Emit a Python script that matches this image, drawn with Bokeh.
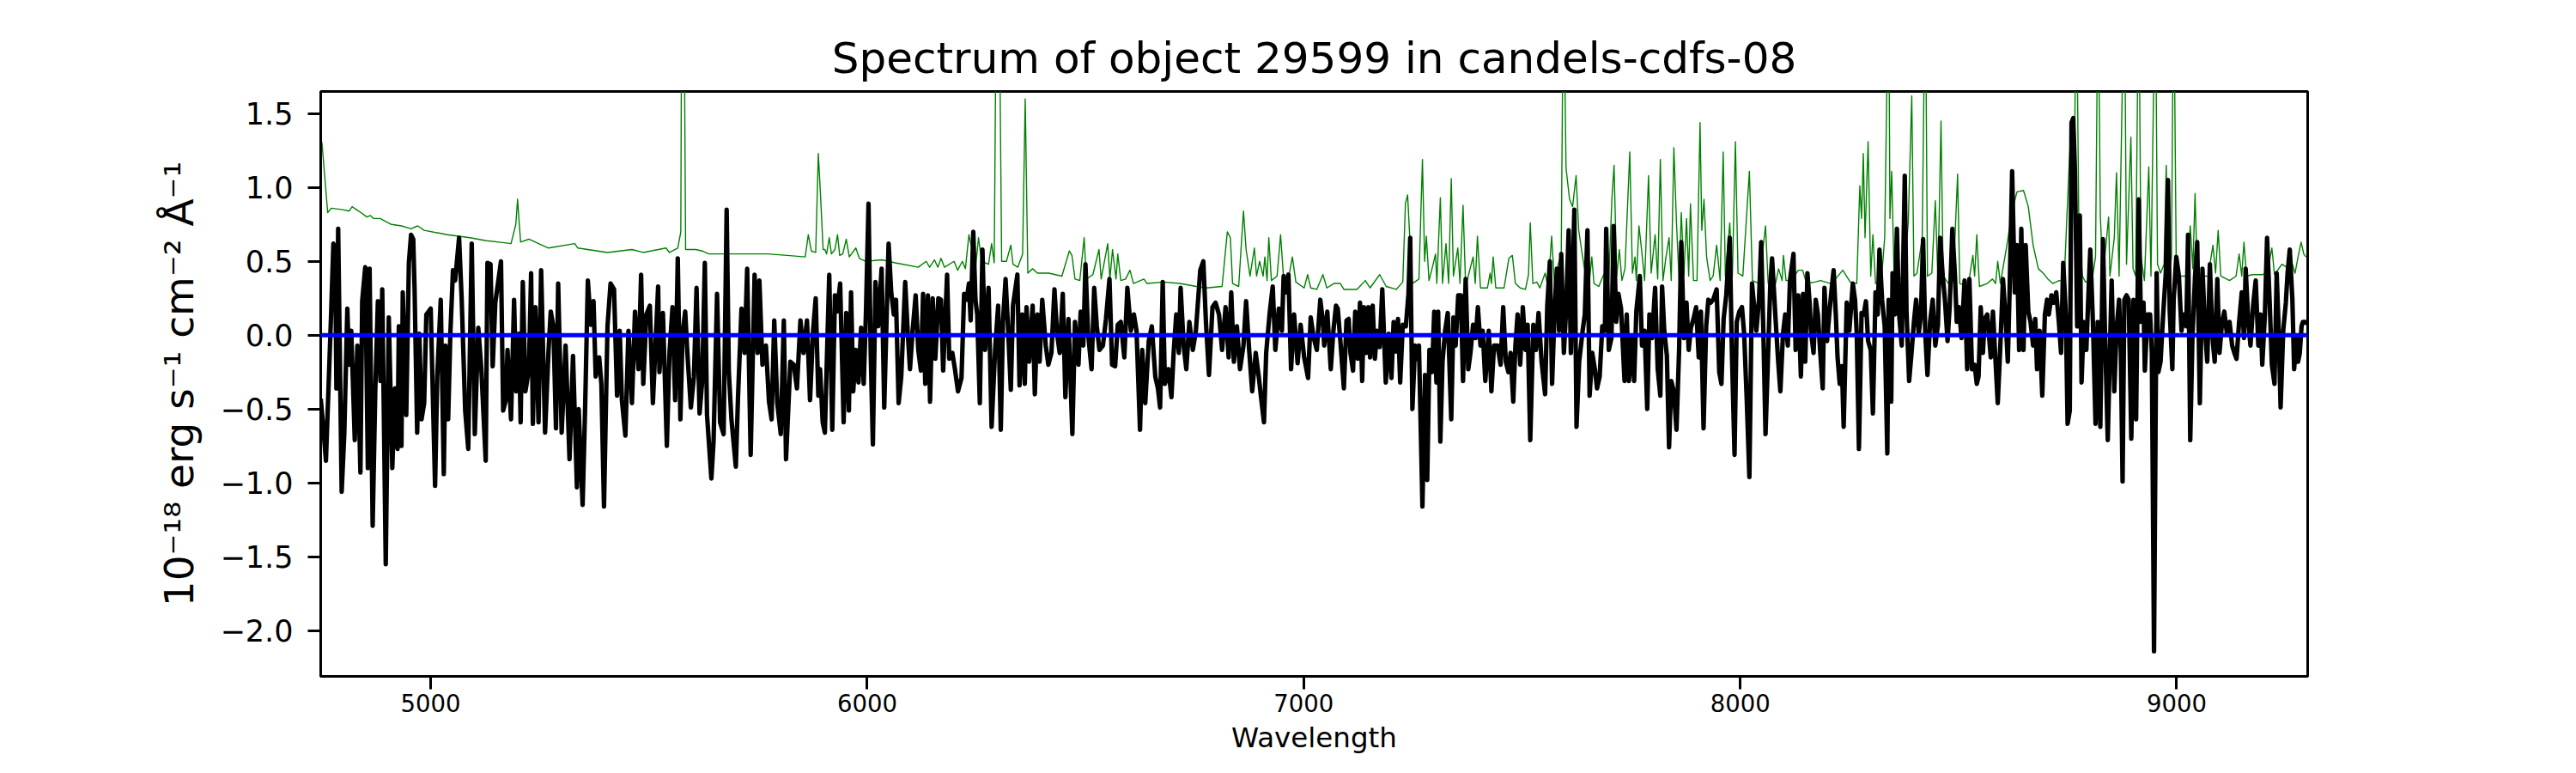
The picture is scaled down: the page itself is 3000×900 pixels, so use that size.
from bokeh.plotting import figure
from bokeh.models import Range1d, FixedTicker, Span, CustomJSTickFormatter
from bokeh.embed import file_html
from bokeh.resources import INLINE

# ---- data ----
# flux (black), pairs of (wavelength [A], flux [1e-18 erg/s/cm2/A])
flux_seg1 = [
    (4748, -0.43), (4753, -0.59), (4760, -0.85), (4772, 0.16), (4777, 0.62), (4781, 0.58), (4784, -0.36),
    (4788, 0.72), (4796, -1.06), (4802, -0.67), (4809, 0.18), (4813, -0.20), (4818, 0.03), (4826, -0.71),
    (4832, -0.07), (4839, -0.93), (4843, 0.23), (4850, 0.46), (4856, -0.90), (4860, 0.45), (4867, -1.29),
    (4873, -0.38), (4879, 0.23), (4885, -0.31), (4889, 0.31), (4897, -1.55), (4904, 0.12), (4912, -0.90),
    (4918, -0.36), (4924, -0.77), (4927, 0.06), (4933, -0.75), (4936, 0.29), (4944, -0.54), (4950, 0.49),
    (4955, 0.68), (4960, 0.65), (4963, 0.32), (4969, -0.66), (4974, 0.01), (4979, -0.57), (4985, -0.46),
    (4990, 0.14), (5000, 0.18), (5010, -1.02), (5015, -0.28), (5023, 0.24), (5030, -0.94), (5034, -0.07),
    (5040, -0.57), (5045, 0.01), (5051, 0.44), (5056, 0.37), (5065, 0.66), (5071, 0.24), (5079, -0.51),
    (5086, -0.77), (5094, 0.62), (5101, -0.67), (5109, 0.05), (5116, -0.23), (5126, -0.85), (5130, 0.49),
    (5137, 0.48), (5142, -0.21), (5148, 0.22), (5154, 0.35), (5161, 0.50), (5166, -0.51), (5172, -0.44),
    (5176, -0.10), (5184, -0.57), (5191, 0.24), (5196, -0.38), (5202, 0.01), (5206, -0.59), (5211, 0.36),
    (5217, -0.38), (5225, -0.23), (5230, 0.42), (5234, -0.60), (5240, 0.19), (5247, -0.59), (5253, 0.44),
    (5262, -0.66), (5270, -0.10), (5275, 0.16), (5281, 0.06), (5287, -0.63), (5292, 0.35), (5300, -0.66),
    (5309, -0.07), (5318, -0.84), (5326, -0.14), (5335, -1.03), (5339, -0.50), (5348, -1.15), (5354, -0.46),
    (5360, 0.37), (5367, 0.07), (5373, 0.23), (5378, -0.28), (5386, -0.15), (5391, -0.33), (5397, -1.16),
    (5405, 0.06), (5412, 0.35), (5420, 0.31), (5427, -0.41), (5433, 0.03), (5438, -0.44), (5446, -0.68),
    (5453, 0.03), (5461, -0.46), (5468, 0.16), (5476, -0.23), (5482, 0.41), (5487, -0.33), (5494, 0.14),
    (5502, 0.20), (5509, -0.46), (5521, 0.33), (5524, -0.25), (5532, 0.15), (5541, -0.75), (5547, -0.12),
    (5554, 0.19), (5560, -0.44), (5566, 0.52), (5572, -0.57), (5577, 0.01), (5583, 0.16), (5588, -0.12),
    (5596, -0.49), (5603, -0.28), (5609, 0.32), (5616, -0.53), (5622, -0.31), (5628, 0.49), (5633, -0.54),
    (5643, -0.97), (5648, -0.72), (5656, 0.28), (5663, -0.59), (5671, -0.67), (5678, 0.85), (5683, -0.25),
    (5689, -0.57), (5699, -0.89), (5704, -0.42), (5712, 0.18), (5719, -0.12), (5725, 0.45), (5733, -0.81),
    (5742, 0.41), (5749, -0.12), (5753, 0.37), (5760, -0.20), (5768, -0.07), (5775, -0.45), (5781, -0.57),
    (5787, 0.10), (5794, -0.46), (5802, -0.67), (5809, 0.10), (5814, -0.84), (5824, -0.18), (5832, -0.20),
    (5839, -0.36), (5847, 0.10), (5854, -0.12), (5862, 0.10), (5869, -0.44), (5876, 0.03), (5882, 0.25),
    (5888, -0.41),
]
flux_seg2 = [
    (5892, -0.23), (5898, -0.59), (5903, -0.66), (5908, -0.12), (5913, 0.41), (5920, -0.64), (5926, 0.27),
    (5931, 0.16), (5938, 0.35), (5946, -0.59), (5952, 0.15), (5958, -0.51), (5963, 0.29), (5968, -0.38),
    (5974, -0.10), (5980, -0.32), (5986, 0.05), (5992, -0.33), (5997, 0.14), (6003, 0.89), (6008, -0.12),
    (6013, -0.74), (6019, 0.36), (6025, 0.06), (6033, 0.45), (6039, -0.49), (6049, 0.62), (6055, 0.29),
    (6061, 0.14), (6066, 0.24), (6072, -0.46), (6078, -0.28), (6087, 0.36), (6093, 0.01), (6098, -0.23),
    (6104, 0.03), (6111, 0.27), (6117, -0.10), (6123, -0.24), (6128, 0.28), (6133, -0.33), (6139, 0.27),
    (6144, -0.45), (6150, 0.25), (6156, -0.16), (6163, 0.25), (6169, 0.24), (6174, -0.24), (6183, 0.41),
    (6188, -0.16), (6195, -0.12), (6201, -0.23), (6208, -0.38), (6216, -0.29), (6222, 0.28), (6228, 0.24),
    (6233, 0.35), (6237, 0.10), (6243, 0.70), (6248, 0.24), (6252, 0.14), (6258, -0.46), (6264, 0.58),
    (6270, -0.10), (6278, 0.32), (6285, -0.62), (6293, -0.10), (6300, 0.20), (6306, -0.64), (6311, 0.09),
    (6317, 0.38), (6323, 0.03), (6329, -0.37), (6334, 0.20), (6344, 0.41), (6349, -0.34), (6355, 0.14),
    (6361, -0.33), (6365, 0.19), (6371, -0.18), (6379, 0.20), (6384, -0.40), (6390, 0.14), (6395, -0.18),
    (6401, 0.24), (6409, -0.07), (6415, -0.20), (6422, -0.12), (6429, 0.31), (6435, 0.01), (6441, -0.12),
    (6448, 0.28), (6454, -0.42), (6461, 0.11), (6470, -0.67), (6476, 0.09), (6484, -0.20), (6489, 0.16),
    (6495, -0.07), (6500, 0.48), (6506, 0.01), (6514, -0.23), (6520, 0.32), (6526, 0.06), (6532, -0.10),
    (6540, -0.07), (6547, 0.11), (6555, 0.38), (6561, -0.20), (6568, -0.21), (6574, 0.07), (6581, 0.09),
    (6589, -0.15), (6596, 0.32), (6604, 0.03), (6611, 0.14), (6617, 0.03), (6625, -0.64), (6630, -0.10),
    (6637, -0.46), (6645, -0.04), (6652, 0.06), (6660, -0.28), (6666, -0.36), (6671, -0.49), (6677, 0.36),
    (6682, -0.33), (6690, -0.23), (6697, -0.42), (6702, -0.12), (6708, 0.14), (6714, -0.12), (6718, 0.32),
    (6725, -0.07), (6731, -0.23), (6738, 0.09), (6746, -0.10), (6753, 0.03), (6763, 0.44), (6770, 0.50),
    (6776, 0.09), (6783, -0.27), (6791, 0.19), (6798, 0.22), (6806, 0.14), (6813, -0.10), (6821, 0.19),
    (6828, -0.15), (6834, 0.29), (6840, -0.18), (6847, 0.06), (6854, -0.23), (6862, -0.07), (6868, 0.23),
    (6875, -0.10), (6882, -0.38), (6890, -0.12), (6897, -0.28), (6903, -0.44), (6909, -0.59), (6914, -0.12),
    (6922, 0.15), (6929, 0.33), (6935, -0.10), (6943, 0.18), (6950, 0.03), (6954, 0.40), (6959, 0.29),
    (6965, 0.41), (6971, -0.23), (6978, 0.14), (6986, -0.19), (6993, 0.07), (7001, -0.15), (7010, -0.29),
    (7016, 0.12), (7023, -0.02), (7030, -0.10), (7038, 0.24), (7044, 0.09),
]
flux_seg3 = [
    (7047, -0.07), (7054, 0.16), (7062, -0.23), (7068, 0.03), (7074, 0.20), (7078, 0.18), (7084, -0.04),
    (7092, -0.36), (7098, 0.10), (7103, 0.11), (7107, -0.12), (7113, -0.24), (7118, 0.16), (7124, -0.16),
    (7129, 0.22), (7134, -0.31), (7138, 0.19), (7143, -0.12), (7148, 0.19), (7152, -0.15), (7158, 0.20),
    (7163, -0.16), (7168, 0.03), (7174, -0.08), (7180, 0.31), (7188, -0.32), (7195, 0.01), (7201, -0.29),
    (7206, 0.09), (7212, -0.11), (7216, 0.11), (7221, -0.32), (7227, 0.07), (7234, 0.06), (7240, 0.28),
    (7244, 0.66), (7249, -0.50), (7255, -0.07), (7259, -0.16), (7264, -0.07), (7272, -1.16), (7278, -0.27),
    (7283, -0.98), (7288, -0.10), (7294, -0.25), (7299, 0.16), (7304, -0.32), (7308, 0.16), (7313, -0.72),
    (7318, -0.18), (7324, 0.03), (7330, 0.15), (7338, -0.57), (7343, 0.12), (7348, -0.07), (7354, 0.27),
    (7360, 0.27), (7365, -0.31), (7371, 0.38), (7377, -0.23), (7382, -0.12), (7388, 0.07), (7394, -0.02),
    (7399, 0.19), (7405, -0.07), (7410, 0.03), (7416, -0.31), (7424, 0.03), (7430, -0.38), (7436, -0.07),
    (7444, -0.07), (7451, -0.20), (7457, 0.19), (7463, -0.18), (7469, -0.25), (7474, -0.12), (7480, -0.45),
    (7485, -0.07), (7490, 0.14), (7496, -0.20), (7502, 0.19), (7508, -0.10), (7513, 0.07), (7519, -0.71),
    (7526, 0.07), (7532, -0.10), (7538, 0.15), (7545, -0.18), (7553, -0.40), (7558, 0.20), (7564, 0.50),
    (7569, -0.33), (7575, 0.19), (7580, 0.45), (7585, 0.03), (7590, 0.55), (7596, -0.12), (7601, 0.16),
    (7607, 0.71), (7612, -0.12), (7620, 0.85), (7625, -0.62), (7631, -0.18), (7639, 0.03), (7644, 0.14),
    (7650, 0.71), (7655, -0.41), (7661, -0.12), (7667, -0.23), (7672, -0.36), (7678, -0.28), (7684, 0.06),
    (7690, 0.03), (7693, 0.72), (7699, -0.10), (7705, -0.02), (7710, 0.74), (7716, 0.09), (7721, 0.28),
    (7727, 0.18), (7735, -0.31), (7740, 0.14), (7745, -0.31), (7751, -0.02), (7757, -0.31), (7762, 0.16),
    (7770, 0.40), (7775, -0.07), (7781, 0.03), (7787, -0.50), (7792, 0.14), (7798, -0.02), (7805, 0.32),
    (7811, -0.23), (7817, -0.41), (7821, 0.33), (7826, 0.03), (7832, -0.14), (7837, -0.76), (7842, -0.31),
    (7848, -0.38), (7854, -0.64), (7860, -0.10), (7865, 0.63), (7871, -0.02), (7877, 0.22), (7882, -0.10),
    (7887, 0.05), (7893, 0.11), (7899, 0.19), (7905, -0.15), (7910, 0.16), (7916, -0.63), (7922, 0.06),
    (7927, 0.24), (7932, 0.22), (7938, 0.24), (7946, 0.31), (7952, -0.25), (7957, -0.33), (7962, 0.11),
    (7968, 0.27), (7976, 0.66), (7981, -0.12), (7987, -0.81), (7992, 0.09), (7998, 0.16), (8004, 0.19),
    (8009, 0.01), (8015, -0.44), (8021, -0.96), (8027, 0.35), (8032, 0.19), (8037, 0.03), (8043, 0.24),
    (8048, 0.63), (8053, 0.03), (8058, -0.67), (8064, -0.12), (8069, 0.35), (8073, 0.52), (8081, 0.11),
    (8087, -0.18), (8092, -0.38), (8098, 0.01), (8103, 0.14), (8109, -0.07), (8114, 0.37), (8122, 0.55),
    (8127, -0.10), (8133, 0.27), (8139, -0.28), (8144, 0.28), (8149, -0.18), (8154, 0.42), (8159, 0.22),
]
flux_seg4 = [
    (8162, 0.03), (8168, -0.12), (8173, 0.24), (8178, 0.14), (8183, -0.10), (8189, -0.36), (8193, 0.32),
    (8199, -0.04), (8204, 0.14), (8208, 0.27), (8214, 0.44), (8219, 0.14), (8223, -0.15), (8228, -0.33),
    (8233, -0.21), (8237, -0.62), (8244, 0.22), (8250, 0.03), (8258, 0.35), (8263, 0.24), (8267, 0.01),
    (8272, -0.77), (8278, 0.15), (8283, 0.14), (8288, 0.23), (8293, -0.04), (8299, -0.10), (8304, -0.53),
    (8310, 0.29), (8315, 0.14), (8319, 0.58), (8325, 0.24), (8331, 0.06), (8337, -0.80), (8340, 0.24),
    (8346, -0.45), (8349, 0.42), (8354, 0.14), (8359, 0.72), (8364, 0.14), (8370, -0.07), (8377, 1.08),
    (8381, 0.16), (8387, -0.31), (8393, -0.10), (8398, 0.09), (8403, 0.24), (8409, 0.01), (8414, 0.14),
    (8419, 0.65), (8424, 0.01), (8429, -0.27), (8435, 0.09), (8441, 0.24), (8447, -0.07), (8453, 0.07),
    (8458, 0.66), (8464, 0.40), (8469, 0.24), (8475, -0.04), (8480, 0.20), (8486, 0.72), (8492, 0.40),
    (8496, 0.09), (8501, 0.19), (8507, -0.02), (8514, 0.37), (8520, -0.23), (8525, 0.38), (8531, -0.23),
    (8537, -0.20), (8542, -0.33), (8546, -0.28), (8551, 0.19), (8556, -0.12), (8560, 0.11), (8566, 0.14),
    (8574, -0.15), (8579, 0.16), (8585, -0.18), (8590, -0.46), (8596, -0.07), (8602, 0.38), (8608, 0.11),
    (8613, -0.18), (8617, 0.28), (8623, 1.11), (8629, 0.29), (8634, 0.61), (8639, -0.10), (8644, 0.72),
    (8649, -0.10), (8654, 0.61), (8660, 0.16), (8665, 0.09), (8671, -0.07), (8676, 0.11), (8680, -0.23),
    (8686, 0.03), (8692, -0.41), (8698, 0.14), (8703, 0.24), (8707, 0.14), (8713, 0.27), (8718, 0.22),
    (8724, 0.29), (8730, 0.09), (8735, -0.12), (8740, 0.49), (8746, 0.14), (8750, -0.60), (8755, -0.51),
    (8759, 1.44), (8763, 1.47), (8767, 1.10), (8772, 0.06), (8778, 0.81), (8782, -0.32), (8787, 0.09),
    (8793, -0.10), (8797, 0.22), (8802, 0.58), (8808, 0.09), (8814, -0.60), (8819, 0.09), (8825, -0.62),
    (8831, 0.65), (8836, -0.02), (8842, -0.71), (8847, -0.10), (8851, 0.37), (8857, -0.38), (8862, 0.03),
    (8868, 0.24), (8872, -0.12), (8876, -0.99), (8880, 0.24), (8885, 0.27), (8890, 0.24), (8896, -0.70),
    (8901, 0.24), (8907, -0.57), (8913, 0.92), (8918, 0.09), (8924, 0.22), (8927, -0.24), (8933, 0.14),
    (8939, 0.14), (8943, -0.12), (8948, -2.14), (8954, 0.42), (8958, -0.25), (8963, -0.18), (8969, 0.14),
    (8975, 0.42), (8980, 1.05), (8984, 0.16), (8990, -0.23), (8993, 0.24), (8999, 0.53), (9005, 0.40),
    (9011, 0.03), (9016, 0.14), (9022, 0.06), (9026, 0.68), (9031, -0.71), (9036, -0.02), (9042, 0.40),
    (9047, 0.63), (9053, -0.46), (9059, 0.45), (9065, 0.03), (9070, -0.18), (9076, 0.48), (9082, -0.02),
    (9087, -0.18), (9093, 0.38), (9098, -0.12), (9104, 0.09), (9109, 0.16), (9115, 0.01), (9121, 0.09),
    (9127, -0.07), (9132, -0.12), (9137, -0.16), (9143, 0.09), (9149, 0.29), (9154, -0.02), (9158, 0.45),
    (9164, 0.09), (9169, -0.07), (9175, 0.20), (9181, 0.37), (9187, -0.07), (9192, 0.14), (9196, -0.20),
    (9202, 0.14), (9207, 0.66), (9213, 0.22), (9218, -0.20), (9224, -0.33), (9229, 0.42), (9233, 0.09),
    (9238, -0.49), (9244, 0.03), (9250, 0.22), (9254, 0.42), (9259, 0.58), (9265, 0.24), (9269, -0.23),
    (9274, -0.02), (9278, -0.18), (9282, -0.12), (9286, 0.06), (9289, 0.09), (9294, 0.09), (9299, 0.08),
]

# noise / sky spectrum (green)
noise_seg1 = [
    (4749, 1.32), (4751, 1.30), (4764, 0.83), (4772, 0.86), (4798, 0.85), (4813, 0.84), (4820, 0.87),
    (4835, 0.84), (4854, 0.80), (4862, 0.81), (4869, 0.79), (4884, 0.79), (4910, 0.75), (4933, 0.74),
    (4955, 0.72), (4970, 0.74), (4985, 0.71), (5038, 0.68), (5090, 0.66), (5127, 0.64), (5157, 0.63),
    (5184, 0.62), (5195, 0.75), (5199, 0.92), (5203, 0.75), (5206, 0.63), (5225, 0.65), (5247, 0.62),
    (5270, 0.59), (5330, 0.62), (5337, 0.59), (5405, 0.56), (5461, 0.58), (5487, 0.56), (5539, 0.59),
    (5547, 0.56), (5566, 0.59), (5573, 0.70), (5575, 2.50), (5580, 2.50), (5584, 0.58), (5607, 0.58),
    (5622, 0.57), (5637, 0.55), (5674, 0.55), (5712, 0.55), (5772, 0.55), (5817, 0.54), (5858, 0.53),
    (5865, 0.68), (5872, 0.57), (5882, 0.56), (5888, 1.23), (5893, 0.95), (5899, 0.58), (5903, 0.58),
]
noise_seg2 = [
    (5907, 0.55), (5913, 0.66), (5918, 0.55), (5926, 0.58), (5932, 0.68), (5937, 0.54), (5944, 0.55),
    (5952, 0.65), (5959, 0.53), (5974, 0.59), (5982, 0.52), (5997, 0.50), (6034, 0.51), (6064, 0.49),
    (6117, 0.46), (6135, 0.50), (6143, 0.46), (6154, 0.51), (6162, 0.46), (6169, 0.52), (6177, 0.46),
    (6199, 0.50), (6207, 0.44), (6218, 0.50), (6225, 0.45), (6233, 0.68), (6238, 0.61), (6243, 0.70),
    (6248, 0.45), (6255, 0.66), (6263, 0.48), (6270, 0.49), (6278, 0.48), (6285, 0.62), (6291, 0.49),
    (6296, 2.50), (6302, 2.50), (6308, 0.50), (6319, 0.50), (6329, 0.61), (6334, 0.48), (6345, 0.46),
    (6356, 0.55), (6362, 1.60), (6368, 0.42), (6379, 0.45), (6390, 0.42), (6416, 0.42), (6446, 0.40),
    (6463, 0.57), (6469, 0.54), (6476, 0.38), (6487, 0.37), (6497, 0.66), (6502, 0.38), (6517, 0.41),
    (6531, 0.58), (6536, 0.38), (6551, 0.62), (6556, 0.38), (6562, 0.58), (6570, 0.38), (6574, 0.55),
    (6581, 0.37), (6592, 0.38), (6602, 0.44), (6610, 0.35), (6634, 0.38), (6641, 0.35), (6679, 0.36),
    (6716, 0.35), (6754, 0.33), (6776, 0.32), (6813, 0.33), (6825, 0.70), (6832, 0.66), (6837, 0.35),
    (6851, 0.33), (6862, 0.84), (6868, 0.58), (6877, 0.40), (6887, 0.59), (6892, 0.40), (6899, 0.50),
    (6907, 0.40), (6911, 0.53), (6916, 0.37), (6920, 0.66), (6926, 0.37), (6939, 0.40), (6947, 0.68),
    (6954, 0.38), (6963, 0.35), (6974, 0.53), (6982, 0.36), (7001, 0.32), (7009, 0.41), (7016, 0.32),
    (7030, 0.31), (7044, 0.41), (7053, 0.32),
]
noise_seg3 = [
    (7069, 0.35), (7084, 0.35), (7092, 0.31), (7122, 0.31), (7141, 0.37), (7152, 0.32), (7174, 0.41),
    (7189, 0.33), (7212, 0.31), (7227, 0.36), (7233, 0.89), (7238, 0.95), (7243, 0.66), (7249, 0.35),
    (7264, 0.38), (7272, 1.19), (7277, 0.50), (7281, 0.67), (7287, 0.37), (7294, 0.45), (7302, 0.55),
    (7305, 0.35), (7313, 0.93), (7318, 0.35), (7326, 0.62), (7332, 0.35), (7338, 1.06), (7343, 0.40),
    (7353, 0.59), (7358, 0.35), (7365, 0.88), (7371, 0.33), (7388, 0.53), (7393, 0.35), (7398, 0.67),
    (7405, 0.32), (7421, 0.32), (7427, 0.42), (7430, 0.35), (7434, 0.53), (7440, 0.32), (7459, 0.32),
    (7470, 0.52), (7478, 0.54), (7485, 0.35), (7496, 0.32), (7508, 0.31), (7515, 0.41), (7519, 0.76),
    (7525, 0.35), (7534, 0.36), (7541, 0.32), (7553, 0.42), (7560, 0.32), (7568, 0.67), (7575, 0.32),
    (7583, 0.48), (7590, 0.55), (7595, 2.50), (7601, 1.13), (7609, 0.92), (7616, 0.87), (7624, 1.08),
    (7630, 0.71), (7639, 0.53), (7646, 0.40), (7654, 0.35), (7660, 0.53), (7665, 0.35), (7676, 0.33),
    (7687, 0.41), (7699, 0.38), (7706, 0.92), (7711, 1.15), (7717, 0.40), (7723, 0.58), (7729, 0.37),
    (7736, 0.45), (7747, 1.24), (7753, 0.42), (7759, 0.53), (7762, 0.37), (7768, 0.74), (7774, 0.58),
    (7781, 0.37), (7790, 1.08), (7796, 0.42), (7805, 0.68), (7811, 0.38), (7817, 1.19), (7823, 0.37),
    (7830, 0.53), (7837, 0.66), (7842, 0.37), (7848, 1.27), (7854, 0.76), (7860, 0.37), (7865, 0.83),
    (7871, 0.41), (7877, 0.79), (7882, 0.40), (7886, 0.89), (7893, 0.37), (7901, 0.37), (7908, 1.44),
    (7912, 0.71), (7917, 0.92), (7923, 0.53), (7931, 0.37), (7938, 0.40), (7946, 0.61), (7954, 0.37),
    (7961, 1.24), (7966, 0.40), (7976, 0.76), (7982, 0.40), (7989, 1.31), (7995, 0.42), (8006, 0.40),
    (8021, 1.11), (8028, 0.37), (8043, 0.35), (8058, 0.74), (8064, 0.35), (8081, 0.35), (8088, 0.45),
    (8096, 0.37), (8099, 0.54), (8105, 0.37), (8118, 0.37), (8133, 0.44), (8143, 0.44), (8152, 0.35),
    (8171, 0.36),
]
noise_seg4 = [
    (8184, 0.37), (8207, 0.35), (8218, 0.38), (8235, 0.44), (8252, 0.36), (8267, 0.35), (8274, 1.01),
    (8278, 0.79), (8282, 1.23), (8286, 0.66), (8293, 1.31), (8299, 0.40), (8304, 0.68), (8310, 0.35),
    (8323, 0.35), (8331, 0.66), (8340, 2.50), (8343, 0.79), (8347, 1.11), (8353, 0.35), (8364, 0.38),
    (8375, 0.40), (8385, 0.76), (8393, 1.62), (8398, 0.40), (8405, 0.42), (8417, 0.66), (8424, 2.50),
    (8429, 0.40), (8439, 0.42), (8447, 0.91), (8453, 0.37), (8460, 1.45), (8465, 0.40), (8477, 0.35),
    (8488, 0.37), (8498, 1.09), (8503, 0.35), (8522, 0.33), (8533, 0.54), (8537, 0.40), (8542, 0.68),
    (8548, 0.33), (8566, 0.35), (8578, 0.38), (8585, 0.35), (8590, 0.50), (8596, 0.35), (8611, 0.61),
    (8623, 0.84), (8634, 0.97), (8649, 0.98), (8660, 0.87), (8671, 0.61), (8683, 0.45), (8694, 0.42),
    (8705, 0.38), (8716, 0.35), (8731, 0.37), (8742, 0.36), (8754, 1.18), (8759, 1.44), (8765, 0.92),
    (8770, 2.50), (8776, 0.66), (8784, 0.40), (8791, 0.36), (8806, 0.37), (8814, 0.53), (8820, 2.50),
    (8825, 0.81), (8831, 0.40), (8844, 0.80), (8847, 0.40), (8857, 0.66), (8862, 1.10), (8868, 0.40),
    (8880, 2.50), (8885, 0.48), (8895, 1.34), (8900, 0.45), (8906, 0.40), (8913, 2.50), (8918, 0.53),
    (8926, 0.37), (8936, 1.14), (8941, 0.40), (8951, 2.50), (8956, 0.48), (8963, 0.42), (8971, 0.48),
    (8976, 1.15), (8982, 0.40), (8988, 0.53), (8993, 2.50), (8999, 0.45), (9008, 0.40), (9023, 0.40),
    (9031, 0.74), (9037, 0.45), (9042, 0.96), (9047, 0.42), (9061, 0.40), (9072, 0.40), (9083, 0.61),
    (9089, 0.42), (9095, 0.71), (9101, 0.40), (9121, 0.37), (9136, 0.40), (9143, 0.55), (9149, 0.40),
    (9154, 0.63), (9160, 0.40), (9173, 0.41), (9196, 0.41), (9207, 0.42), (9218, 0.59), (9224, 0.41),
    (9241, 0.48), (9252, 0.46), (9263, 0.50), (9271, 0.42), (9278, 0.53), (9285, 0.63), (9291, 0.55),
    (9296, 0.53),
]

zero_level = 0.0
x_ticks = [5000, 6000, 7000, 8000, 9000]
y_ticks = [-2.0, -1.5, -1.0, -0.5, 0.0, 0.5, 1.0, 1.5]
x_limits = (4748, 9300)
y_limits = (-2.31, 1.65)
title_text = "Spectrum of object 29599 in candels-cdfs-08"
x_label = "Wavelength"
y_label = "10\u207b\u00b9\u2078 erg s\u207b\u00b9 cm\u207b\u00b2 \u00c5\u207b\u00b9"

flux_all = flux_seg1 + flux_seg2 + flux_seg3 + flux_seg4
noise_all = noise_seg1 + noise_seg2 + noise_seg3 + noise_seg4
flux_wave = [w for w, _ in flux_all]
flux_val = [f for _, f in flux_all]
noise_wave = [w for w, _ in noise_all]
noise_val = [f for _, f in noise_all]

FONT = "DejaVu Sans"

p = figure(width=2984, height=884, output_backend="svg", toolbar_location=None,
           x_range=Range1d(*x_limits), y_range=Range1d(*y_limits),
           min_border_left=373, min_border_right=297, min_border_top=106, min_border_bottom=97,
           title=title_text)
p.background_fill_color = "white"
p.border_fill_color = "white"
p.outline_line_color = "black"
p.outline_line_width = 3
p.grid.visible = False

p.title.align = "center"
p.title.text_font = FONT
p.title.text_font_size = "50px"
p.title.text_font_style = "normal"
p.title.text_color = "black"
p.title.standoff = 20

for ax in (p.xaxis[0], p.yaxis[0]):
    ax.axis_line_color = "black"
    ax.axis_line_width = 3
    ax.major_tick_line_color = "black"
    ax.major_tick_line_width = 3
    ax.major_tick_out = 15
    ax.major_tick_in = 0
    ax.minor_tick_line_color = None
    ax.axis_label_text_font = FONT
    ax.axis_label_text_font_style = "normal"
    ax.axis_label_text_color = "black"
    ax.major_label_text_font = FONT
    ax.major_label_text_color = "black"

p.xaxis.ticker = FixedTicker(ticks=x_ticks)
p.xaxis.major_label_text_font_size = "27.5px"
p.xaxis.major_label_standoff = 5
p.xaxis.axis_label = x_label
p.xaxis.axis_label_text_font_size = "32.5px"
p.xaxis.axis_label_standoff = 8

p.yaxis.ticker = FixedTicker(ticks=y_ticks)
p.yaxis.formatter = CustomJSTickFormatter(code="return tick.toFixed(1).replace('-', '\\u2212');")
p.yaxis.major_label_text_font_size = "35px"
p.yaxis.major_label_standoff = 17
p.yaxis.axis_label = y_label
p.yaxis.axis_label_text_font_size = "47px"
p.yaxis.axis_label_standoff = 18

p.line(noise_wave, noise_val, line_color="#008000", line_width=1.4, line_join="round")
p.line(flux_wave, flux_val, line_color="black", line_width=5.2, line_join="round")
p.add_layout(Span(location=zero_level, dimension="width", line_color="#0000ff", line_width=5))

open("out.html", "w").write(file_html(p, INLINE))
